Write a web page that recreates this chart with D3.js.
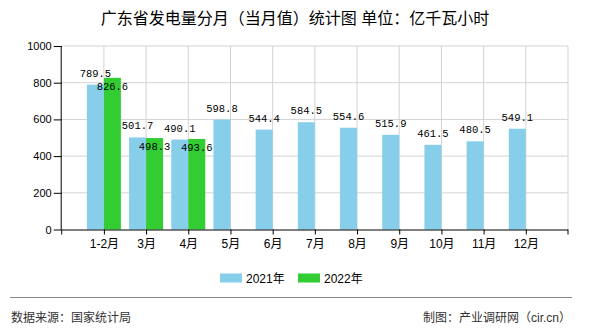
<!DOCTYPE html>
<html>
<head>
<meta charset="utf-8">
<script src="https://cdn.jsdelivr.net/npm/d3@7"></script>
<style>
  html, body { margin: 0; padding: 0; background: #fff; }
  svg { display: block; }
  text { font-family: "Liberation Sans", "Noto Sans CJK SC", sans-serif; }
</style>
</head>
<body>
<svg id="chart" width="590" height="330"></svg>
<script>
const categories = ["1-2月", "3月", "4月", "5月", "6月", "7月", "8月", "9月", "10月", "11月", "12月"];
const values2021 = [789.5, 501.7, 490.1, 598.8, 544.4, 584.5, 554.6, 515.9, 461.5, 480.5, 549.1];
const values2022 = [826.6, 498.3, 493.6];
const yTicks = [0, 200, 400, 600, 800, 1000];
const seriesNames = ["2021年", "2022年"];
const seriesColors = ["#87CEEB", "#32CD32"];

(function () {
const svg = d3.select("#chart");
const pLeft = 61.7, pRight = 568, pTop = 46, pBottom = 229.5;
const barW = 17;

const x = d3.scalePoint().domain(categories).range([pLeft, pRight]).padding(1);
const y = d3.scaleLinear().domain([0, 1000]).range([pBottom, pTop]);

// Title
svg.append("text").attr("x", 295).attr("y", 24).attr("text-anchor", "middle")
  .attr("font-size", 16).attr("fill", "#000")
  .text("广东省发电量分月（当月值）统计图 单位：亿千瓦小时");

// Horizontal grid
svg.append("g").selectAll("line").data(yTicks.filter(d => d > 0)).join("line")
  .attr("x1", pLeft).attr("x2", pRight)
  .attr("y1", d => y(d)).attr("y2", d => y(d))
  .attr("stroke", "#d3d3d3").attr("stroke-width", 1);

// Vertical grid at category positions + right edge
const vGrid = categories.map(c => x(c)).concat([pRight]);
svg.append("g").selectAll("line").data(vGrid).join("line")
  .attr("x1", d => d).attr("x2", d => d)
  .attr("y1", pTop).attr("y2", pBottom)
  .attr("stroke", "#d3d3d3").attr("stroke-width", 1);

// Bars 2021
svg.append("g").selectAll("rect").data(values2021).join("rect")
  .attr("x", (d, i) => x(categories[i]) - barW)
  .attr("y", d => y(d))
  .attr("width", barW)
  .attr("height", d => pBottom - y(d))
  .attr("fill", seriesColors[0]);

// Bars 2022
svg.append("g").selectAll("rect").data(values2022).join("rect")
  .attr("x", (d, i) => x(categories[i]))
  .attr("y", d => y(d))
  .attr("width", barW)
  .attr("height", d => pBottom - y(d))
  .attr("fill", seriesColors[1]);

// Value labels
const labelFont = '"Liberation Mono", "DejaVu Sans Mono", monospace';
svg.append("g").selectAll("text").data(values2021).join("text")
  .attr("x", (d, i) => x(categories[i]) - barW / 2)
  .attr("y", d => y(d) - 8)
  .attr("text-anchor", "middle")
  .attr("font-size", 10.5).style("font-family", labelFont).attr("fill", "#000")
  .text(d => d.toFixed(1));
svg.append("g").selectAll("text").data(values2022).join("text")
  .attr("x", (d, i) => x(categories[i]) + barW / 2)
  .attr("y", d => y(d) + 12)
  .attr("text-anchor", "middle")
  .attr("font-size", 10.5).style("font-family", labelFont).attr("fill", "#000")
  .text(d => d.toFixed(1));

// Y axis
const yAxis = d3.axisLeft(y).tickValues(yTicks).tickSize(8).tickPadding(2).tickFormat(d3.format("d"));
const gy = svg.append("g").attr("transform", `translate(${pLeft},0)`).call(yAxis);
gy.select(".domain").attr("stroke", "#000").attr("d", `M-0.5,${pTop}V${pBottom}`);
gy.selectAll(".tick line").attr("stroke", "#000");
gy.selectAll(".tick text").attr("font-size", 11).attr("fill", "#000")
  .style("font-family", '"Liberation Sans", sans-serif');

// X axis
const xAxis = d3.axisBottom(x).tickSize(5).tickPadding(5);
const gx = svg.append("g").attr("transform", `translate(0,${pBottom})`).call(xAxis);
gx.select(".domain").attr("stroke", "#000").attr("d", `M${pLeft},0.5H${pRight}`);
gx.selectAll(".tick line").attr("stroke", "#000");
gx.selectAll(".tick text").attr("font-size", 12).attr("fill", "#000")
  .style("font-family", '"Liberation Sans", "Noto Sans CJK SC", sans-serif');
// end ticks
svg.append("g").selectAll("line").data([pLeft, pRight]).join("line")
  .attr("x1", d => d).attr("x2", d => d)
  .attr("y1", pBottom).attr("y2", pBottom + 5)
  .attr("stroke", "#000");

// Legend
const legendX = [220, 298];
const lg = svg.append("g");
seriesNames.forEach((name, i) => {
  lg.append("rect").attr("x", legendX[i]).attr("y", 273.5).attr("width", 22).attr("height", 9)
    .attr("fill", seriesColors[i]);
  lg.append("text").attr("x", legendX[i] + 26).attr("y", 282.5)
    .attr("font-size", 12).attr("fill", "#000").text(name);
});

// Divider
svg.append("line").attr("x1", 10).attr("x2", 572).attr("y1", 297.5).attr("y2", 297.5)
  .attr("stroke", "#888").attr("stroke-width", 1);

// Footer
svg.append("text").attr("x", 11).attr("y", 322).attr("font-size", 12).attr("fill", "#333")
  .text("数据来源：国家统计局");
svg.append("text").attr("x", 571).attr("y", 322).attr("text-anchor", "end")
  .attr("font-size", 12).attr("fill", "#333")
  .text("制图：产业调研网（cir.cn）");
})();
</script>
</body>
</html>
